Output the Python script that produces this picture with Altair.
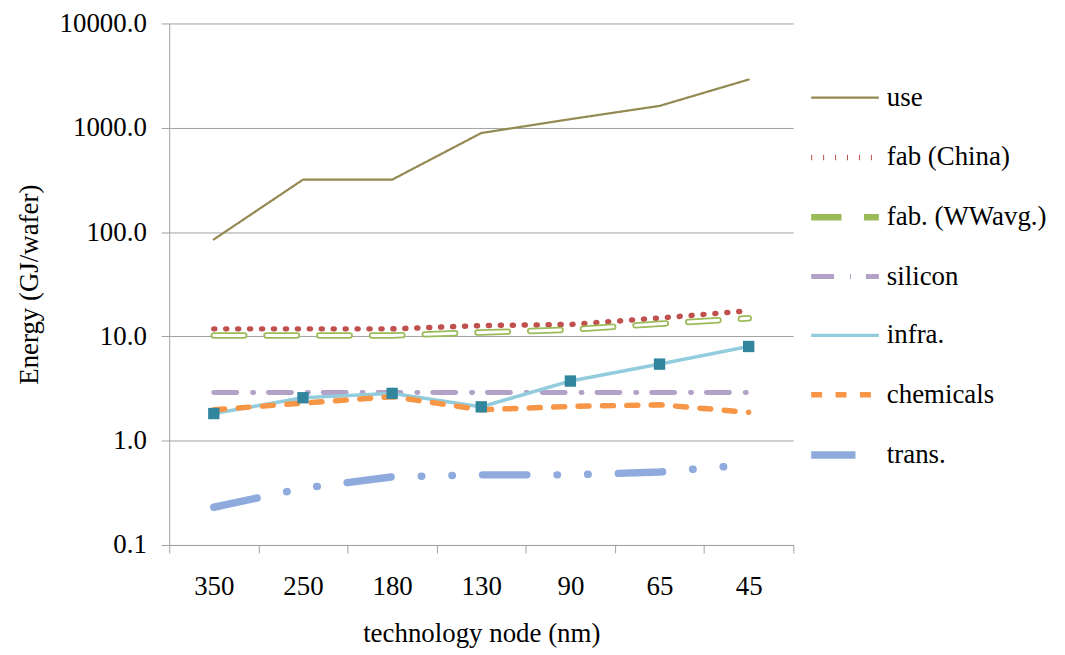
import altair as alt
import pandas as pd

# ---- data ----
nodes = ["350", "250", "180", "130", "90", "65", "45"]
series_names = ["use", "fab (China)", "fab. (WWavg.)", "silicon", "infra.", "chemicals", "trans."]

use = [85, 318, 318, 890, 1210, 1620, 2900]
fab_china = [11.8, 11.8, 11.8, 12.7, 13.0, 15.0, 17.6]
fab_wwavg = [10.2, 10.2, 10.2, 10.9, 11.6, 13.2, 14.9]
silicon = [2.9, 2.9, 2.9, 2.9, 2.9, 2.9, 2.9]
infra = [1.82, 2.58, 2.84, 2.11, 3.73, 5.42, 8.0]
chemicals = [1.98, 2.29, 2.64, 1.98, 2.13, 2.21, 1.87]
trans = [0.23, 0.35, 0.45, 0.47, 0.47, 0.50, 0.59]

y_ticks = [0.1, 1, 10, 100, 1000, 10000]

# ---- styles ----
colors = ["#948A54", "#C0504D", "#9BBB59", "#B3A2C7", "#93CDDD", "#F79646", "#8FAADC"]
dashes = [[1, 0], [1, 11], [30.5, 22.5], [23, 16, 1, 15], [1, 0], [11, 13.5],
          [44.5, 30.3, 0.5, 30.3, 0.5, 30.3]]
widths = [2.2, 5.5, 6.5, 5, 3.5, 5.5, 7.5]

all_values = [use, fab_china, fab_wwavg, silicon, infra, chemicals, trans]
rows = []
for name, vals in zip(series_names, all_values):
    for i, (n, v) in enumerate(zip(nodes, vals)):
        rows.append({"series": name, "node": n, "value": v, "idx": i})
df = pd.DataFrame(rows)

FONT = "Liberation Serif"
GRAY = "#A0A0A0"

x = alt.X(
    "node:N",
    sort=nodes,
    bandPosition=0.5,
    scale=alt.Scale(type="band", paddingInner=0, paddingOuter=0),
    axis=alt.Axis(tickBand="extent", tickSize=8, labelPadding=21, titlePadding=21,
                  grid=False, labelAngle=0),
    title="technology node (nm)",
)
y = alt.Y(
    "value:Q",
    scale=alt.Scale(type="log", domain=[0.1, 10000], nice=False),
    axis=alt.Axis(values=y_ticks, format=".1f", tickSize=8, labelPadding=15,
                  titlePadding=16, grid=True),
    title="Energy (GJ/wafer)",
)

base = alt.Chart(df)

lines = base.mark_line(strokeCap="round", strokeJoin="round").encode(
    x=x,
    y=y,
    color=alt.Color(
        "series:N",
        sort=series_names,
        scale=alt.Scale(domain=series_names, range=colors),
        title=None,
        legend=alt.Legend(
            orient="none", legendX=641, legendY=39, symbolType="stroke",
            symbolSize=4624, labelFont=FONT, labelFontSize=27, labelColor="black",
            labelOffset=4, rowPadding=9.6, padding=0, labelLimit=300,
        ),
    ),
    strokeDash=alt.StrokeDash(
        "series:N", sort=series_names,
        scale=alt.Scale(domain=series_names, range=dashes), title=None,
    ),
    strokeWidth=alt.StrokeWidth(
        "series:N", sort=series_names,
        scale=alt.Scale(type="ordinal", domain=series_names, range=widths), title=None,
    ),
    order=alt.Order("idx:Q"),
)

ww_inner = base.transform_filter(alt.datum.series == "fab. (WWavg.)").mark_line(
    color="white", strokeWidth=3, strokeDash=[30.5, 22.5], strokeCap="round"
).encode(x=x, y=y, order=alt.Order("idx:Q"))

infra_pts = base.transform_filter(alt.datum.series == "infra.").mark_point(
    shape="square", filled=True, size=130, color="#31859C", opacity=1
).encode(x=x, y=y)

chart = alt.layer(lines, ww_inner, infra_pts).properties(
    width=627,
    height=524,
    autosize=alt.AutoSizeParams(type="none"),
    padding={"left": 162, "top": 14, "right": 265, "bottom": 106},
).configure(font=FONT).configure_view(strokeWidth=0).configure_axis(
    labelFont=FONT, titleFont=FONT, labelFontSize=27, titleFontSize=27,
    titleFontWeight="normal", labelColor="black", titleColor="black",
    domainColor=GRAY, tickColor=GRAY, gridColor=GRAY,
).configure_legend(labelFont=FONT)

chart.save("out.html", embed_options={"renderer": "svg", "actions": False})
